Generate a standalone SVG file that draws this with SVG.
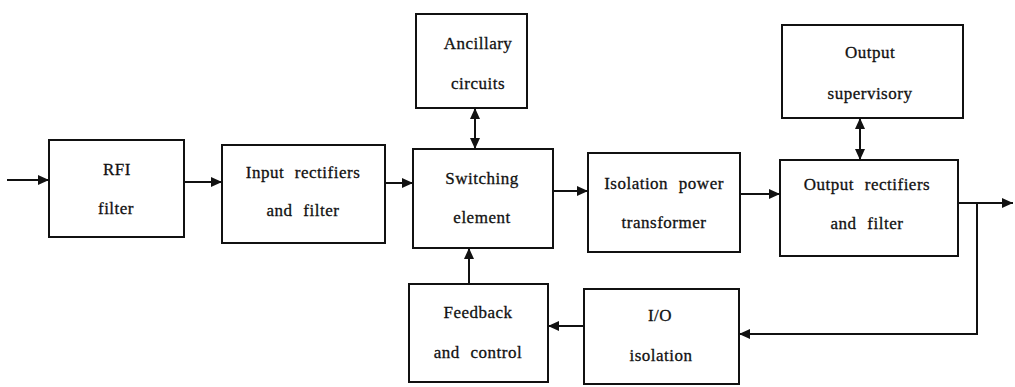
<svg xmlns="http://www.w3.org/2000/svg" width="1015" height="387" viewBox="0 0 1015 387">
<defs>
<marker id="ah" markerUnits="userSpaceOnUse" markerWidth="12" markerHeight="10" refX="11" refY="5" orient="auto-start-reverse">
<path d="M0,0 L11,5 L0,10 z" fill="#111"/>
</marker>
<style>
.box{fill:#fff;stroke:#111;stroke-width:2}
.t{font-family:'Liberation Serif','DejaVu Serif','Times New Roman',serif;font-size:17px;letter-spacing:0.5px;word-spacing:6px;fill:#111;text-anchor:middle;stroke:#111;stroke-width:0.3}
.c{fill:none;stroke:#111;stroke-width:2}
</style>
</defs>
<rect width="1015" height="387" fill="#fff"/>
<g id="rfi"><rect class="box" x="49" y="140" width="135" height="97"/><text class="t" x="117" y="175">RFI</text><text class="t" x="116" y="214">filter</text></g>
<g id="input"><rect class="box" x="222" y="145" width="163" height="98"/><text class="t" x="303" y="178">Input rectifiers</text><text class="t" x="303" y="216">and filter</text></g>
<g id="switching"><rect class="box" x="413" y="149" width="140" height="99"/><text class="t" x="482" y="184">Switching</text><text class="t" x="482" y="223">element</text></g>
<g id="ancillary"><rect class="box" x="416" y="14" width="111" height="94"/><text class="t" x="478" y="49">Ancillary</text><text class="t" x="478" y="89">circuits</text></g>
<g id="isolation"><rect class="box" x="588" y="153" width="152" height="99"/><text class="t" x="664" y="189">Isolation power</text><text class="t" x="664" y="228">transformer</text></g>
<g id="output"><rect class="box" x="780" y="160" width="178" height="96"/><text class="t" x="867" y="190">Output rectifiers</text><text class="t" x="867" y="229">and filter</text></g>
<g id="supervisory"><rect class="box" x="782" y="25" width="181" height="93"/><text class="t" x="870" y="58">Output</text><text class="t" x="870" y="99">supervisory</text></g>
<g id="feedback"><rect class="box" x="409" y="284" width="139" height="98"/><text class="t" x="478" y="318">Feedback</text><text class="t" x="478" y="358">and control</text></g>
<g id="io"><rect class="box" x="584" y="289" width="155" height="95"/><text class="t" x="660" y="321">I/O</text><text class="t" x="661" y="361">isolation</text></g>
<g id="connectors">
<path class="c" d="M7,180 H49" marker-end="url(#ah)"/>
<path class="c" d="M184,182 H222" marker-end="url(#ah)"/>
<path class="c" d="M385,183 H413" marker-end="url(#ah)"/>
<path class="c" d="M553,191 H588" marker-end="url(#ah)"/>
<path class="c" d="M740,194 H780" marker-end="url(#ah)"/>
<path class="c" d="M958,203 H1013" marker-end="url(#ah)"/>
<path class="c" d="M977,203 V334 H739" marker-end="url(#ah)"/>
<path class="c" d="M584,326 H548" marker-end="url(#ah)"/>
<path class="c" d="M469,284 V248" marker-end="url(#ah)"/>
<path class="c" d="M475,108 V149" marker-start="url(#ah)" marker-end="url(#ah)"/>
<path class="c" d="M860,118 V160" marker-start="url(#ah)" marker-end="url(#ah)"/>
</g>
</svg>
